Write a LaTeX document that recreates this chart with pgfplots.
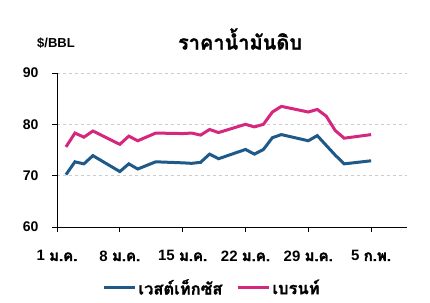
\documentclass[border=0pt]{standalone}
\usepackage{pgfplots}
\pgfplotsset{compat=1.18}
\usepackage{fontspec}
\setmainfont{Liberation Sans}
\newfontfamily\thai[Script=Thai, BoldFeatures={FakeBold=1.2}]{Loma}
\newfontfamily\thaix[Script=Thai, BoldFeatures={FakeBold=2.2}]{Loma}
\definecolor{wti}{HTML}{1D5A8A}
\definecolor{brent}{HTML}{D6277F}
\begin{document}
\begin{tikzpicture}[x=1pt,y=1pt]
\useasboundingbox (0,0) rectangle (430,302);
\begin{axis}[
  at={(57pt,75pt)}, anchor=south west,
  scale only axis, width=350pt, height=154pt,
  xmin=0, xmax=39, ymin=60, ymax=90,
  axis lines=left, axis line style={-, line width=0.8pt},
  xtick={0,7,14,21,28,35},
  xticklabels={{1 {\thaix\bfseries ม.ค.}},{8 {\thaix\bfseries ม.ค.}},{15 {\thaix\bfseries ม.ค.}},{22 {\thaix\bfseries ม.ค.}},{29 {\thaix\bfseries ม.ค.}},{5 {\thaix\bfseries ก.พ.}}},
  ytick={60,70,80,90},
  tick align=outside, major tick length=5pt,
  tick style={black, line width=0.8pt},
  /pgf/number format/assume math mode=true,
  ticklabel style={font=\fontsize{14}{16}\selectfont\bfseries},
  xticklabel style={font=\fontsize{15}{17}\selectfont\bfseries, yshift=-15pt},
  yticklabel style={xshift=-10pt},
  ymajorgrids, grid style={dashed, gray!40, line width=0.6pt},
  legend style={at={(0.443,-0.394)}, anchor=center, draw=none, fill=none,
    legend columns=2, font=\thai\bfseries\fontsize{16.5}{18}\selectfont,
    inner sep=0pt, row sep=0pt,
    /tikz/every even column/.append style={column sep=12pt},
    nodes={inner xsep=2pt, inner ysep=0pt}},
  legend image code/.code={\draw[#1, line width=3pt] (0pt,0pt) -- (31pt,0pt);},
  clip=false,
]
\addplot[wti, line width=3pt] coordinates {
(1,70.2) (2,72.7) (3,72.3) (4,73.9) (7,70.8) (8,72.3) (9,71.3) (11,72.7)
(14,72.5) (15,72.4) (16,72.6) (17,74.2) (18,73.3) (21,75.1) (22,74.2) (23,75.1)
(24,77.4) (25,78.0) (28,76.8) (29,77.8) (30,75.9) (31,74.0) (32,72.3) (35,72.9)
};
\addlegendentry{เวสต์เท็กซัส}
\addplot[brent, line width=3pt] coordinates {
(1,75.6) (2,78.3) (3,77.5) (4,78.7) (7,76.1) (8,77.7) (9,76.8) (11,78.3)
(14,78.2) (15,78.3) (16,77.9) (17,79.0) (18,78.4) (21,80.0) (22,79.5) (23,80.0)
(24,82.4) (25,83.5) (28,82.4) (29,82.9) (30,81.6) (31,78.8) (32,77.3) (35,78.0)
};
\addlegendentry{เบรนท์}
\end{axis}
\node[font=\fontsize{13}{15}\selectfont\bfseries] at (56,259) {\$/BBL};
\node[font=\thai\bfseries\fontsize{20}{22}\selectfont] at (240,263) {ราคาน้ำมันดิบ};
\end{tikzpicture}
\end{document}
